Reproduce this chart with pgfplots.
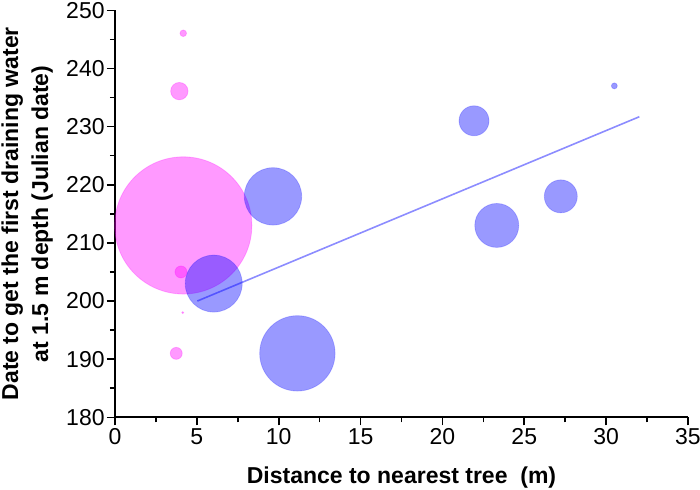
\documentclass[border=0pt]{standalone}
\usepackage{pgfplots}
\pgfplotsset{compat=1.18}
\usepackage{fontspec}
\setmainfont{Liberation Sans}
\definecolor{mypink}{RGB}{255,0,255}
\definecolor{myblue}{RGB}{0,0,255}
\begin{document}
\begin{tikzpicture}
\begin{axis}[
  at={(0,0)}, anchor=south west,
  scale only axis, width=286.5pt, height=203.5pt,
  xmin=0, xmax=35, ymin=180, ymax=250,
  axis x line=bottom, axis y line=left,
  axis line style={-, line width=1pt, black},
  xtick={0,5,...,35}, ytick={180,190,...,250},
  minor x tick num=1, minor y tick num=1,
  tick align=outside,
  major tick length=4pt, minor tick length=2.5pt,
  every tick/.style={black, line width=0.8pt},
  /pgf/number format/assume math mode=true,
  tick label style={font=\fontsize{11.5}{13}\selectfont},
  xticklabel style={inner sep=1.5pt},
  yticklabel style={inner sep=1pt},
  xlabel={Distance to nearest tree\ \ (m)},
  ylabel={Date to get the first draining water\\at 1.5 m depth (Julian date)},
  xlabel style={font=\fontsize{11.5}{13}\selectfont\bfseries, at={(axis description cs:0.5,-0.162)}, anchor=base, inner sep=0pt},
  ylabel style={font=\fontsize{11.5}{15}\selectfont\bfseries, align=center, at={(axis description cs:-0.1075,0.5)}, anchor=south, inner sep=0pt},
  clip=false,
]
% pink bubbles
\addplot[scatter, only marks, mark=*,
  scatter/use mapped color={draw=mypink, fill=mypink},
  mark options={fill opacity=0.4, draw opacity=0.25, line width=0.4pt},
  visualization depends on={\thisrow{r} \as \rad},
  scatter/@pre marker code/.append style={/tikz/mark size=\rad pt}]
  table[x=x, y=y] {
x y r
4.17 213.0 34.3
4.17 246.05 1.65
3.93 236.1 4.35
4.03 205.0 3.0
4.14 198.0 0.5
3.74 191.0 3.0
};
% blue bubbles
\addplot[scatter, only marks, mark=*,
  scatter/use mapped color={draw=myblue, fill=myblue},
  mark options={fill opacity=0.4, draw opacity=0.2, line width=0.4pt},
  visualization depends on={\thisrow{r} \as \rad},
  scatter/@pre marker code/.append style={/tikz/mark size=\rad pt}]
  table[x=x, y=y] {
x y r
6.03 203.0 14.25
11.14 191.0 18.85
9.65 218.0 14.35
21.93 231.0 7.5
23.32 213.0 11.0
27.23 218.0 8.25
30.50 237.0 1.5
};
% fit line
\addplot[myblue, opacity=0.45, line width=0.8pt, no marks] coordinates {(5.03,200.0) (32.03,231.7)};
\end{axis}
\pgfresetboundingbox
\path (-57.5pt,-35.85pt) rectangle (292.5pt,208.65pt);
\end{tikzpicture}
\end{document}
